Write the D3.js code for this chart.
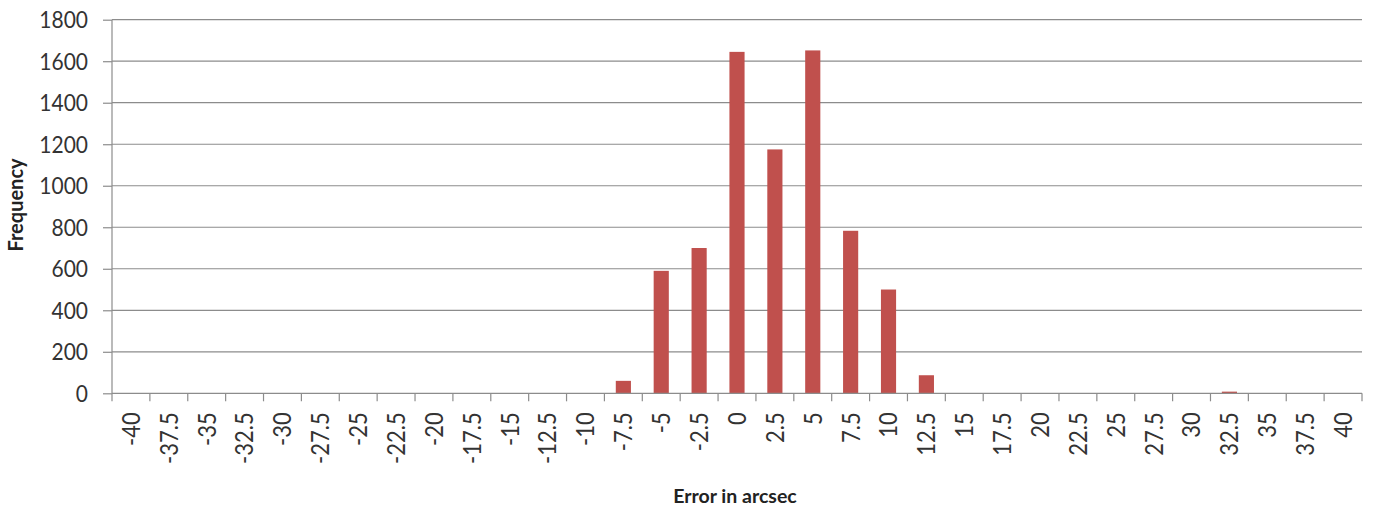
<!DOCTYPE html>
<html><head><meta charset="utf-8">
<script src="https://cdn.jsdelivr.net/npm/d3@7"></script>
<style>body{margin:0;background:#fff}svg{display:block}</style>
</head><body>
<svg id="c" width="1375" height="513"></svg>
<script>
const categories = ["-40","-37.5","-35","-32.5","-30","-27.5","-25","-22.5","-20","-17.5","-15","-12.5","-10","-7.5","-5","-2.5","0","2.5","5","7.5","10","12.5","15","17.5","20","22.5","25","27.5","30","32.5","35","37.5","40"];
const frequency = [0,0,0,0,0,0,0,0,0,0,0,0,0,60,590,700,1645,1175,1652,783,500,87,0,0,0,0,0,0,0,8,0,0,0];
const yTicks = [0,200,400,600,800,1000,1200,1400,1600,1800];

const svg = d3.select("#c");
const m = {l:112, r:13, t:19.7, b:119.7};
const W = 1375, H = 513;
const x = d3.scaleBand().domain(categories).range([m.l, W-m.r]).paddingInner(0.6).paddingOuter(0.3);
const y = d3.scaleLinear().domain([0,1800]).range([H-m.b, m.t]);
const font = "Lato, 'Open Sans', sans-serif";
const grey = "#8c8c8c";

// grid
svg.append("g").selectAll("line").data(yTicks.slice(1)).join("line")
  .attr("x1", m.l).attr("x2", W-m.r).attr("y1", d=>y(d)).attr("y2", d=>y(d))
  .attr("stroke",grey).attr("stroke-width",1.2);

// bars
svg.append("g").selectAll("rect").data(frequency).join("rect")
  .attr("x",(d,i)=>x(categories[i])).attr("width",x.bandwidth())
  .attr("y",d=>y(d)).attr("height",d=>y(0)-y(d)).attr("fill","#c0504d");

// y axis
const ya = svg.append("g").attr("transform",`translate(${m.l},0)`)
  .call(d3.axisLeft(y).tickValues(yTicks).tickSize(9).tickFormat(""));
ya.select(".domain").attr("stroke",grey).attr("stroke-width",1.2).attr("d",`M0,${y(0)}V${y(1800)}`);
ya.selectAll(".tick line").attr("stroke",grey).attr("stroke-width",1.2);
svg.append("g").selectAll("text").data(yTicks).join("text")
  .attr("transform",d=>`translate(88,${y(d)}) scale(1,1.12)`)
  .attr("dy","0.36em").attr("text-anchor","end")
  .attr("font-family",font).attr("font-size",21).attr("fill","#333").text(d=>d);

// x axis
const xa = svg.append("g").attr("transform",`translate(0,${y(0)})`);
xa.append("line").attr("x1",m.l).attr("x2",W-m.r).attr("y1",0).attr("y2",0).attr("stroke",grey).attr("stroke-width",1.2);
const bounds = d3.range(categories.length+1).map(i=>m.l + i*(W-m.r-m.l)/categories.length);
xa.selectAll("line.t").data(bounds).join("line").attr("class","t")
  .attr("x1",d=>d).attr("x2",d=>d).attr("y1",0).attr("y2",8).attr("stroke",grey).attr("stroke-width",1.2);
xa.selectAll("text").data(categories).join("text")
  .attr("transform",d=>`translate(${x(d)+x.bandwidth()/2},19) rotate(-90) scale(1,1.12)`)
  .attr("dy","0.36em")
  .attr("text-anchor","end").attr("font-family",font).attr("font-size",22).attr("fill","#333")
  .text(d=>d);

// axis titles
svg.append("text").attr("x",735).attr("y",503).attr("text-anchor","middle")
  .attr("font-family",font).attr("font-weight","bold").attr("font-size",19.5).attr("fill","#222").text("Error in arcsec");
svg.append("text").attr("transform","translate(23,205) rotate(-90)").attr("text-anchor","middle")
  .attr("font-family",font).attr("font-weight","bold").attr("font-size",20).attr("fill","#222").text("Frequency");
</script>
</body></html>
